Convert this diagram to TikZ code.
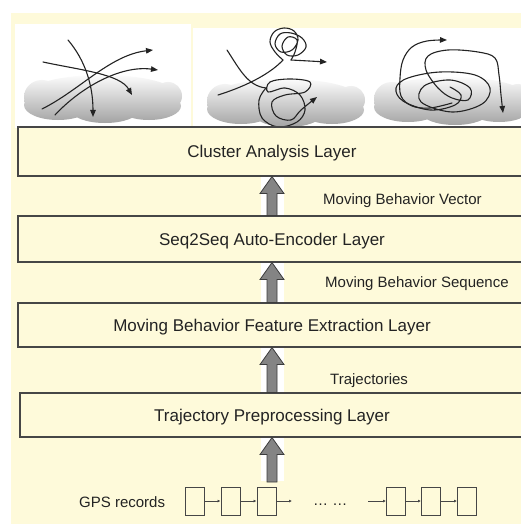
\documentclass[tikz,border=0pt]{standalone}
\usepackage{fontspec}
\setmainfont{Liberation Sans}
\usetikzlibrary{calc,arrows.meta}
\definecolor{paper}{RGB}{254,250,218}
\definecolor{frame}{RGB}{70,70,70}
\definecolor{arrowgray}{RGB}{132,132,132}
\definecolor{arrowedge}{RGB}{60,60,60}
\definecolor{cloudtop}{RGB}{252,252,252}
\definecolor{cloudgray}{RGB}{163,163,163}
\definecolor{ink}{RGB}{35,35,35}

% upward block arrow from the top of #1 to the bottom of #2, on the axis (ax)
\newcommand\layerarrow[2]{%
  \fill[white] let \p1=(#1 -| ax), \p2=(#2 -| ax) in
    (\x1-11.5pt,\y1+0.7pt) rectangle (\x1+11.5pt,\y2-0.7pt);
  \draw[blockarrow] let \p1=(#1 -| ax), \p2=(#2 -| ax) in
    (\x1-5pt,\y1) -- (\x1-5pt,\y2-17pt) -- (\x1-12pt,\y2-17pt) -- (\x1,\y2)
    -- (\x1+12pt,\y2-17pt) -- (\x1+5pt,\y2-17pt) -- (\x1+5pt,\y1) -- cycle;
}

\begin{document}
\begin{tikzpicture}[x=1pt,y=-1pt,
  layer/.style={draw=frame, line width=1.1pt, fill=paper, inner sep=0pt,
    text depth=0pt, text=ink, font=\fontsize{17}{20}\selectfont},
  flowlabel/.style={anchor=west, inner sep=0pt, text=ink,
    font=\fontsize{15}{18}\selectfont},
  blockarrow/.style={fill=arrowgray, draw=arrowedge, line width=0.8pt, line join=miter},
  record/.style={draw=frame, line width=1pt, fill=paper, minimum width=19pt,
    minimum height=28pt, inner sep=0pt},
  link/.style={draw=frame, line width=0.9pt, -{Latex[length=3pt,width=3pt]}},
  traj/.style={draw=ink, line width=1.1pt, line cap=round, line join=round},
  trajend/.style={traj, -{Triangle[length=7pt,width=5.5pt]}},
  pics/cloudshape/.style={code={
    \shade[top color=cloudtop, bottom color=cloudgray]
      (0,-4) ellipse [x radius=74, y radius=19]
      (-60,-1) ellipse [x radius=18, y radius=17]
      (-44,7) ellipse [x radius=34, y radius=15]
      (3,12) ellipse [x radius=34, y radius=13]
      (47,8) ellipse [x radius=32, y radius=14]
      (66,-2) ellipse [x radius=14, y radius=14];
  }}]

\useasboundingbox (0,0) rectangle (521,524);
\clip (0,0) rectangle (521,524);

% page background
\fill[white] (0,0) rectangle (521,524);
\fill[paper] (11,13) rectangle (521,524);

% picture panels
\fill[white] (15,24) rectangle (191,128);
\fill[white] (193,28) rectangle (521,127);

% clouds
\pic at (102,98) {cloudshape};
\pic at (285,102) {cloudshape};
\pic at (452,100) {cloudshape};

% scattered trajectories
\draw[trajend] (68,40) .. controls (85,60) and (93,85) .. (93,117);
\draw[trajend] (43,62) .. controls (80,70) and (120,74) .. (132,95);
\draw[trajend] (42,109) .. controls (80,90) and (110,55) .. (153,50);
\draw[trajend] (55,115) .. controls (80,88) and (120,65) .. (158,70);

% trajectories with local loops
\draw[traj] (227,50) .. controls (240,70) and (248,86) .. (266,88);
\draw[trajend] plot[smooth, tension=0.6] coordinates {(266,88) (259,100) (262,118)
  (278,127) (297,122) (305,110) (300,95) (285,88) (268,92) (270,82) (290,79)
  (310,82) (305,92) (285,95) (272,102) (276,116) (291,120) (301,110) (317,97)};
\draw[traj] (218,95) .. controls (250,85) and (272,72) .. (283,60);
\draw[traj] plot[smooth, tension=0.6] coordinates {(283,60) (275,52) (270,42)
  (274,32) (284,28) (294,31) (298,40) (292,50) (281,52) (275,44) (280,34)
  (291,33) (302,38) (306,47) (298,55) (287,55) (282,46) (288,37) (297,40)
  (295,52) (291,60)};
\draw[trajend] (291,60) -- (327,62);

% tangled trajectories
\draw[trajend] plot[smooth, tension=0.6] coordinates {(452,103) (430,108) (412,106)
  (401,96) (400,78) (403,60) (412,47) (427,41) (447,40)};
\draw[trajend] plot[smooth, tension=0.6] coordinates {(450,87) (461,95) (455,105)
  (430,110) (403,101) (396,88) (408,78) (440,72) (475,75) (490,88) (482,104)
  (452,112) (421,102) (424,86) (450,80) (470,88) (468,100) (452,98) (438,88)
  (426,70) (428,56) (448,50) (478,52) (495,58) (499,75) (501,95) (503,113)};

% layers
\coordinate (ax) at (272,0);
\node[layer, minimum width=508pt, minimum height=49pt] (cluster) at (272,151.5) {Cluster Analysis Layer};
\node[layer, minimum width=508pt, minimum height=46pt] (seq) at (272,239) {Seq2Seq Auto-Encoder Layer};
\node[layer, minimum width=508pt, minimum height=44pt] (feat) at (272,325) {Moving Behavior Feature Extraction Layer};
\node[layer, minimum width=504pt, minimum height=44pt] (prep) at (272,415) {Trajectory Preprocessing Layer};

% GPS record chain
\node[record] (g1) at (194.5,501) {};
\node[record] (g2) at (230.5,501) {};
\node[record] (g3) at (266.5,501) {};
\node[record] (g4) at (396,501) {};
\node[record] (g5) at (431,501) {};
\node[record] (g6) at (467,501) {};
\coordinate (chainout) at (292,501);
\coordinate (chainin) at (368,501);
\coordinate (gpstop) at (272,482);
\draw[link] (g1) -- (g2);
\draw[link] (g2) -- (g3);
\draw[link] (g3) -- (chainout);
\draw[link] (chainin) -- (g4);
\draw[link] (g4) -- (g5);
\draw[link] (g5) -- (g6);
\node[anchor=base west, inner sep=0pt, text=ink, font=\fontsize{15}{18}\selectfont] (gap) at (313,505) {… …};
\node[flowlabel] (gpslabel) at (79,502) {GPS records};

% data flow between layers
\layerarrow{gpstop}{prep.south}
\layerarrow{prep.north}{feat.south}
\layerarrow{feat.north}{seq.south}
\layerarrow{seq.north}{cluster.south}

\node[flowlabel] (vec) at (323,201) {Moving Behavior Vector};
\node[flowlabel] (seqlabel) at (325,284) {Moving Behavior Sequence};
\node[flowlabel] (trajlabel) at (330,381) {Trajectories};
\end{tikzpicture}
\end{document}
